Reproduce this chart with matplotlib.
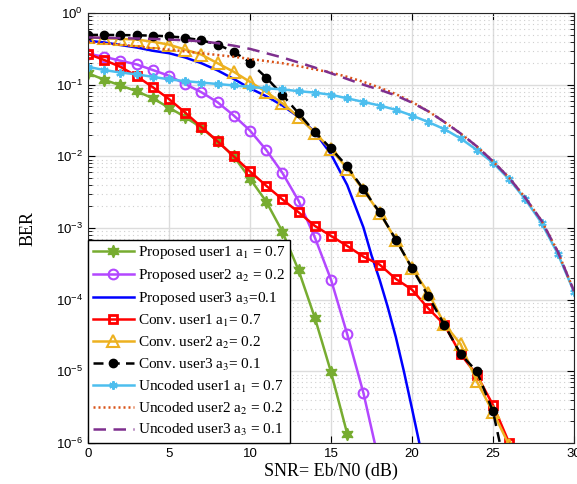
import numpy as np
import matplotlib
matplotlib.use("Agg")
import matplotlib.pyplot as plt
from matplotlib.ticker import LogLocator, FixedLocator, NullFormatter

plt.rcParams['mathtext.fontset'] = 'stix'
plt.rcParams['font.family'] = ['Liberation Sans', 'DejaVu Sans']

# SNR grids (dB)
snr_green = np.arange(0, 17)
snr_purple = np.arange(0, 19)
snr_blue = [0, 1, 2, 3, 4, 5, 6, 7, 8, 9, 10, 11, 12, 13, 14, 15, 16, 17, 17.5, 18, 18.5, 19, 19.5, 20, 20.5, 21]
snr_conv = np.arange(0, 27)
snr_unc = np.arange(0, 31)

# log10(BER)
prop_u1 = [-0.84, -0.93, -1.01, -1.09, -1.19, -1.32, -1.45, -1.60, -1.79, -2.0,
           -2.31, -2.63, -3.05, -3.59, -4.25, -5.01, -5.87]
prop_u2 = [-0.57, -0.61, -0.665, -0.716, -0.795, -0.875, -0.99, -1.105, -1.245, -1.43,
           -1.64, -1.91, -2.23, -2.62, -3.13, -3.72, -4.48, -5.30, -6.3]
prop_u3 = [-0.386, -0.41, -0.446, -0.48, -0.526, -0.56, -0.62, -0.70, -0.80, -0.92,
           -1.05, -1.16, -1.29, -1.45, -1.66, -1.97, -2.40, -2.99, -3.38, -3.72,
           -4.1, -4.52, -5.0, -5.52, -6.05, -6.7]
conv_u1 = [-0.57, -0.655, -0.75, -0.88, -1.035, -1.2, -1.39, -1.59, -1.79, -2.0,
           -2.21, -2.41, -2.6, -2.78, -2.97, -3.11, -3.25, -3.40, -3.51, -3.71,
           -3.86, -4.12, -4.35, -4.76, -5.05, -5.47, -6.0]
conv_u2 = [-0.34, -0.35, -0.36, -0.37, -0.40, -0.44, -0.51, -0.58, -0.70, -0.82,
           -0.96, -1.10, -1.26, -1.45, -1.67, -1.90, -2.17, -2.47, -2.79, -3.16,
           -3.56, -3.90, -4.34, -4.62, -5.14, -5.57, -6.03]
conv_u3 = [-0.305, -0.305, -0.307, -0.31, -0.315, -0.325, -0.345, -0.38, -0.44, -0.54,
           -0.69, -0.90, -1.14, -1.40, -1.66, -1.89, -2.14, -2.46, -2.78, -3.16,
           -3.56, -3.95, -4.35, -4.76, -5.0, -5.56, -6.6]
unc_u1 = [-0.75, -0.795, -0.83, -0.855, -0.89, -0.925, -0.95, -0.97, -0.99, -1.01,
          -1.03, -1.05, -1.065, -1.09, -1.11, -1.14, -1.19, -1.24, -1.29, -1.35,
          -1.43, -1.52, -1.62, -1.75, -1.91, -2.09, -2.32, -2.60, -2.93, -3.36, -3.89]
unc_u2 = [-0.40, -0.42, -0.44, -0.465, -0.49, -0.51, -0.535, -0.56, -0.585, -0.61,
          -0.64, -0.67, -0.70, -0.74, -0.785, -0.83, -0.89, -0.96, -1.04, -1.13,
          -1.24, -1.37, -1.52, -1.68, -1.86, -2.07, -2.30, -2.58, -2.90, -3.33, -3.88]
unc_u3 = [-0.34, -0.345, -0.35, -0.355, -0.36, -0.37, -0.38, -0.395, -0.42, -0.455,
          -0.50, -0.56, -0.62, -0.69, -0.76, -0.84, -0.92, -1.0, -1.07, -1.15,
          -1.25, -1.37, -1.52, -1.68, -1.86, -2.07, -2.30, -2.58, -2.90, -3.33, -3.88]

labels = [
    'Proposed user1 a$_1$ = 0.7',
    'Proposed user2 a$_2$ = 0.2',
    'Proposed user3 a$_3$=0.1',
    'Conv. user1 a$_1$= 0.7',
    'Conv. user2 a$_2$= 0.2',
    'Conv. user3 a$_3$= 0.1',
    'Uncoded user1 a$_1$ = 0.7',
    'Uncoded user2 a$_2$ = 0.2',
    'Uncoded user3 a$_3$ = 0.1',
]

fig = plt.figure(figsize=(5.77, 4.84), dpi=100)
ax = fig.add_axes([0.1525, 0.0847, 0.8423, 0.8883])

lw = 1.8
ax.semilogy(snr_green, 10**np.array(prop_u1), color='#77AC30', lw=lw, marker=(6, 1, 0), ms=9, label=labels[0])
ax.semilogy(snr_purple, 10**np.array(prop_u2), color='#B347FF', lw=lw, marker='o', ms=7, mfc='none', mew=1.5, label=labels[1])
ax.semilogy(snr_blue, 10**np.array(prop_u3), color='#0000FF', lw=lw, label=labels[2])
ax.semilogy(snr_conv, 10**np.array(conv_u1), color='#FF0000', lw=lw, marker='s', ms=6, mfc='none', mew=2, label=labels[3])
ax.semilogy(snr_conv, 10**np.array(conv_u2), color='#EDB120', lw=lw, marker='^', ms=9, mfc='none', mew=1.5, label=labels[4])
ax.semilogy(snr_conv, 10**np.array(conv_u3), color='black', lw=lw, ls=(0, (4, 2.5)), marker='o', ms=6, label=labels[5])
ax.semilogy(snr_unc, 10**np.array(unc_u1), color='#4DBEEE', lw=lw, marker=(6, 2, 0), ms=6, mew=1.5, label=labels[6])
ax.semilogy(snr_unc, 10**np.array(unc_u2), color='#D95319', lw=lw, ls=(0, (0.8, 1.2)), label=labels[7])
ax.semilogy(snr_unc, 10**np.array(unc_u3), color='#7E2F8E', lw=lw, ls=(0, (5, 3)), label=labels[8])

ax.set_xlim(0, 30)
ax.set_ylim(1e-6, 1)
ax.xaxis.set_major_locator(FixedLocator([0, 5, 10, 15, 20, 25, 30]))
ax.yaxis.set_major_locator(LogLocator(base=10, numticks=10))
ax.yaxis.set_minor_locator(LogLocator(base=10, subs=np.arange(2, 10), numticks=20))
ax.yaxis.set_minor_formatter(NullFormatter())

ax.grid(True, which='major', color='#dcdcdc', lw=1, ls='-')
ax.grid(True, which='minor', axis='y', color='#cfcfcf', lw=0.8, ls=(0, (1, 3)))
ax.set_axisbelow(True)

ax.tick_params(which='both', direction='in', top=True, right=True, labelsize=9.5)
ax.tick_params(which='major', length=5)
ax.tick_params(which='minor', length=3)
for s in ax.spines.values():
    s.set_color('#262626')

ax.set_xlabel('SNR= Eb/N0 (dB)', family='Liberation Serif', fontsize=13, labelpad=2)
ax.set_ylabel('BER', family='Liberation Serif', fontsize=13, labelpad=14)

leg = ax.legend(loc='lower left', borderaxespad=0, fancybox=False, framealpha=1,
                edgecolor='black', prop={'family': 'Liberation Serif', 'size': 11},
                handlelength=2.7, labelspacing=0.38, borderpad=0.3, handletextpad=0.3)
leg.get_frame().set_linewidth(1)

fig.savefig('out.png', dpi=100)
